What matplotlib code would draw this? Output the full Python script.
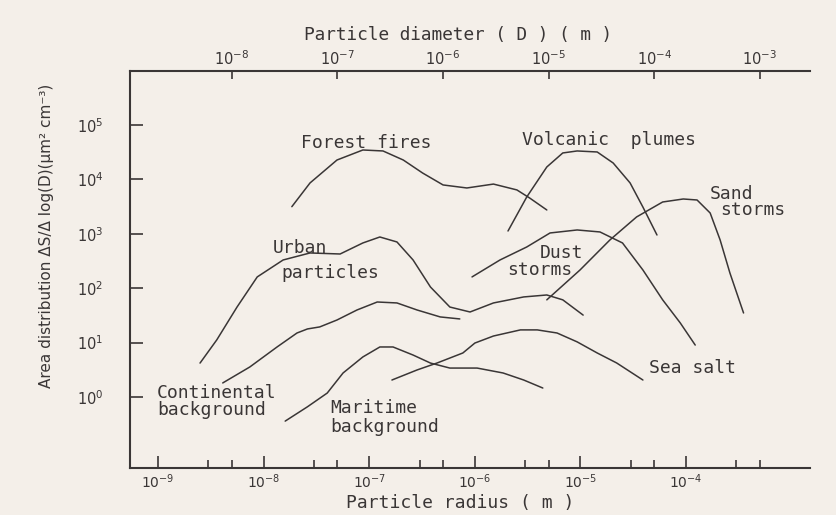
import matplotlib
matplotlib.use("Agg")
from matplotlib import pyplot as plt
from matplotlib.ticker import FixedLocator, NullLocator

# particle radius (m) and area distribution for each source
forest_r = [1.85e-8, 2.75e-8, 4.95e-8, 8.7e-8, 1.35e-7, 2.1e-7, 3.2e-7, 5.0e-7, 8.4e-7, 1.5e-6, 2.5e-6, 3.3e-6, 4.8e-6]
forest_v = [3150, 8600, 22700, 34700, 33300, 22700, 13100, 7900, 6950, 8200, 6400, 4550, 2740]

volcanic_r = [2.06e-6, 3.1e-6, 4.8e-6, 6.8e-6, 9.3e-6, 1.44e-5, 2.04e-5, 2.95e-5, 3.9e-5, 5.3e-5]
volcanic_v = [1125, 4750, 16900, 30600, 33300, 31900, 20000, 8600, 3100, 950]

sand_r = [4.8e-6, 9.9e-6, 1.9e-5, 3.4e-5, 6.0e-5, 9.4e-5, 1.27e-4, 1.69e-4, 2.1e-4, 2.6e-4, 3.5e-4]
sand_v = [61, 216, 770, 2040, 3840, 4360, 4180, 2410, 770, 190, 35]

dust_r = [9.4e-7, 1.73e-6, 3.1e-6, 5.15e-6, 9.3e-6, 1.53e-5, 2.5e-5, 3.9e-5, 6.0e-5, 8.8e-5, 1.22e-4]
dust_v = [161, 330, 572, 1035, 1175, 1080, 678, 216, 61, 23, 9.0]

urban_r = [2.5e-9, 3.6e-9, 5.6e-9, 8.7e-9, 1.53e-8, 2.75e-8, 5.3e-8, 8.7e-8, 1.26e-7, 1.83e-7,
           2.6e-7, 3.8e-7, 5.8e-7, 9.0e-7, 1.5e-6, 2.9e-6, 4.8e-6, 6.8e-6, 1.06e-5]
urban_v = [4.2, 11.2, 45, 161, 330, 444, 425, 678, 873, 707, 330, 105, 45, 36.5, 53.5, 69, 75, 61, 32]

cont_r = [4.1e-9, 7.4e-9, 1.34e-8, 2.07e-8, 2.6e-8, 3.4e-8, 4.95e-8, 7.65e-8, 1.19e-7, 1.83e-7, 2.84e-7, 4.7e-7, 7.2e-7]
cont_v = [1.81, 3.56, 8.3, 15, 17.8, 19.4, 26, 39.7, 55.7, 53.5, 39.7, 29.6, 27.2]

marit_r = [1.6e-8, 2.6e-8, 4.0e-8, 5.65e-8, 8.7e-8, 1.26e-7, 1.68e-7, 2.6e-7, 3.8e-7, 5.8e-7, 1.05e-6, 1.85e-6, 2.9e-6, 4.4e-6]
marit_v = [0.36, 0.66, 1.18, 2.76, 5.44, 8.3, 8.3, 5.9, 4.2, 3.4, 3.4, 2.76, 2.05, 1.46]

salt_r = [1.64e-7, 2.84e-7, 4.4e-7, 7.7e-7, 1.0e-6, 1.5e-6, 2.7e-6, 3.9e-6, 6.0e-6, 9.3e-6, 1.44e-5, 2.2e-5, 3.9e-5]
salt_v = [2.05, 3.14, 4.22, 6.44, 9.8, 13.2, 17.1, 17.1, 15.0, 10.3, 6.44, 4.22, 2.05]

# axis ticks
radius_ticks = [1e-9, 1e-8, 1e-7, 1e-6, 1e-5, 1e-4]
radius_labels = ['10$^{-9}$', '10$^{-8}$', '10$^{-7}$', '10$^{-6}$', '10$^{-5}$', '10$^{-4}$']
radius_minor = [3e-9, 5e-9, 3e-8, 5e-8, 3e-7, 5e-7, 3e-6, 5e-6, 3e-5, 5e-5, 3e-4, 5e-4]
diam_ticks = [1e-8, 1e-7, 1e-6, 1e-5, 1e-4, 1e-3]
diam_labels = ['10$^{-8}$', '10$^{-7}$', '10$^{-6}$', '10$^{-5}$', '10$^{-4}$', '10$^{-3}$']
y_ticks = [1, 10, 100, 1e3, 1e4, 1e5]
y_labels = ['10$^{0}$', '10$^{1}$', '10$^{2}$', '10$^{3}$', '10$^{4}$', '10$^{5}$']

ink = '#3a3636'
paper = '#f4efe9'
plt.rcParams['mathtext.default'] = 'regular'
plt.rcParams['font.family'] = 'DejaVu Sans'

fig = plt.figure(figsize=(8.36, 5.15), dpi=100, facecolor=paper)
ax = fig.add_axes([0.1555, 0.0913, 0.8134, 0.7709], facecolor=paper)
ax.set_xscale('log')
ax.set_yscale('log')
ax.set_xlim(5.43e-10, 1.49e-3)
ax.set_ylim(0.0495, 9.84e5)

for r, v in [(forest_r, forest_v), (volcanic_r, volcanic_v), (sand_r, sand_v), (dust_r, dust_v),
             (urban_r, urban_v), (cont_r, cont_v), (marit_r, marit_v), (salt_r, salt_v)]:
    ax.plot(r, v, color=ink, lw=1.1, solid_capstyle='round', solid_joinstyle='round')

for s in ['right', 'top']:
    ax.spines[s].set_visible(False)
for s in ['left', 'bottom']:
    ax.spines[s].set_color(ink)
    ax.spines[s].set_linewidth(1.5)

ax.xaxis.set_major_locator(FixedLocator(radius_ticks))
ax.set_xticklabels(radius_labels)
ax.xaxis.set_minor_locator(FixedLocator(radius_minor))
ax.xaxis.set_minor_formatter(plt.NullFormatter())
ax.tick_params(axis='x', which='major', direction='in', length=9, width=1.2, color=ink,
               pad=3, labelsize=10, labelcolor=ink)
ax.tick_params(axis='x', which='minor', direction='in', length=6, width=1.2, color=ink)

ax.yaxis.set_major_locator(FixedLocator(y_ticks))
ax.set_yticklabels(y_labels)
ax.yaxis.set_minor_locator(NullLocator())
ax.tick_params(axis='y', direction='in', length=9, width=1.2, color=ink, pad=19,
               labelsize=10.5, labelcolor=ink)

top = ax.secondary_xaxis('top', functions=(lambda r: 2 * r, lambda d: d / 2))
top.xaxis.set_major_locator(FixedLocator(diam_ticks))
top.set_xticklabels(diam_labels)
top.xaxis.set_minor_locator(NullLocator())
top.spines['top'].set_color(ink)
top.spines['top'].set_linewidth(1.5)
top.tick_params(axis='x', direction='in', length=6, width=1.2, color=ink, pad=2,
                labelsize=10.5, labelcolor=ink)

mono = 'DejaVu Sans Mono'
lab = dict(color=ink, fontsize=13, family=mono, va='center')
ax.text(9.3e-8, 46700, 'Forest fires', ha='center', **lab)
ax.text(1.87e-5, 53000, 'Volcanic  plumes', ha='center', **lab)
ax.text(2.21e-8, 548, 'Urban', ha='center', **lab)
ax.text(4.26e-8, 190, 'particles', ha='center', **lab)
ax.text(9.8e-10, 1.18, 'Continental', ha='left', **lab)
ax.text(9.8e-10, 0.577, 'background', ha='left', **lab)
ax.text(4.26e-8, 0.628, 'Maritime', ha='left', **lab)
ax.text(4.26e-8, 0.281, 'background', ha='left', **lab)
ax.text(6.55e-6, 444, 'Dust', ha='center', **lab)
ax.text(4.14e-6, 216, 'storms', ha='center', **lab)
ax.text(2.67e-4, 5390, 'Sand', ha='center', **lab)
ax.text(4.3e-4, 2740, 'storms', ha='center', **lab)
ax.text(1.14e-4, 3.41, 'Sea salt', ha='center', **lab)

fig.text(460 / 836, 1 - 503 / 515, 'Particle radius ( m )', ha='center', va='center',
         color=ink, fontsize=13, family=mono)
fig.text(458 / 836, 1 - 35 / 515, 'Particle diameter ( D ) ( m )', ha='center', va='center',
         color=ink, fontsize=12.8, family=mono)
fig.text(47 / 836, 1 - 236 / 515, 'Area distribution ΔS/Δ log(D)(μm² cm⁻³)', rotation=90,
         ha='center', va='center', color=ink, fontsize=11)

fig.savefig('out.png', dpi=100, facecolor=paper)
